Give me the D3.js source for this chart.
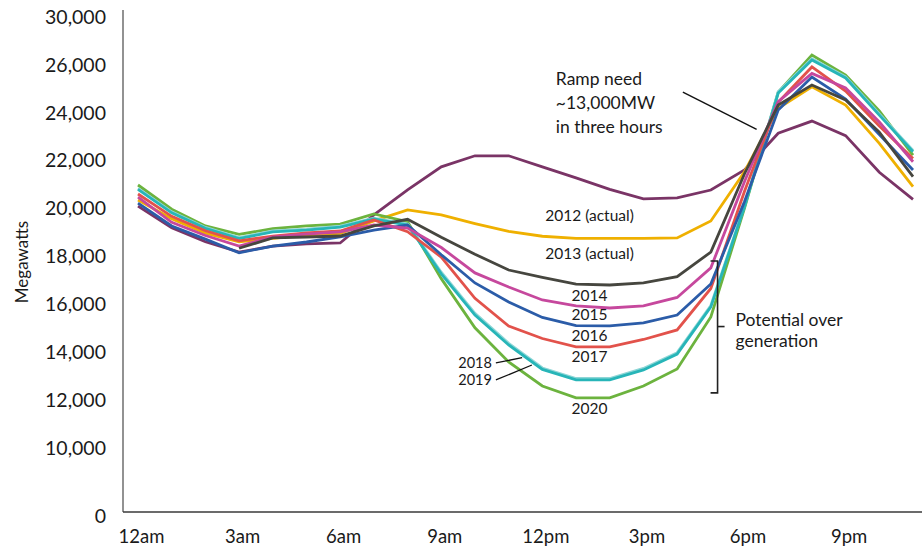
<!DOCTYPE html>
<html><head><meta charset="utf-8">
<script src="https://cdn.jsdelivr.net/npm/d3@7"></script>
<style>
html,body{margin:0;padding:0;background:#fff;}
text{font-family:"Lato","Noto Sans",sans-serif;fill:#1a1a1a;}
</style></head>
<body>
<svg id="chart" width="922" height="551"></svg>
<script>
// ---------- data ----------
const hours = d3.range(0, 24);
const xTickHours  = [0, 3, 6, 9, 12, 15, 18, 21];
const xTickLabels = ["12am", "3am", "6am", "9am", "12pm", "3pm", "6pm", "9pm"];
// the source chart uses a broken axis: "0" sits at the bottom and "30,000" at the 28,000 step
const yTickValues = [7150, 10000, 12000, 14000, 16000, 18000, 20000, 22000, 24000, 26000, 28000];
const yTickLabels = ["0", "10,000", "12,000", "14,000", "16,000", "18,000", "20,000", "22,000", "24,000", "26,000", "30,000"];

const s2012 = [20080, 19170, 18590, 18160, 18410, 18500, 18540, 19710, 20760, 21720, 22180, 22180, 21720, 21260, 20780, 20380, 20420, 20750, 21590, 23120, 23630, 23020, 21490, 20360];
const s2013 = [20330, 19550, 18950, 18590, 18730, 18870, 18940, 19460, 19920, 19710, 19350, 19020, 18820, 18735, 18735, 18735, 18750, 19460, 21515, 24160, 25060, 24300, 22700, 20890];
const s2014 = [null, null, null, 18320, 18750, 18790, 18830, 19250, 19530, 18780, 18070, 17410, 17100, 16820, 16785, 16870, 17130, 18160, 21430, 24300, 25135, 24510, 23170, 21310];
const s2015 = [20450, 19400, 18850, 18410, 18790, 18910, 19000, 19290, 19165, 18350, 17290, 16700, 16160, 15910, 15825, 15910, 16265, 17500, 21110, 24440, 25620, 25010, 23590, 21930];
const s2016 = [20200, 19250, 18700, 18130, 18410, 18580, 18790, 19080, 19290, 18050, 16870, 16075, 15430, 15090, 15075, 15200, 15530, 16830, 20275, 24090, 25470, 24550, 23070, 21590];
const s2017 = [20585, 19650, 19050, 18630, 18830, 18960, 19040, 19500, 19010, 17950, 16230, 15070, 14550, 14200, 14200, 14510, 14910, 16640, 20700, 24420, 25890, 24880, 23420, 22070];
const s2018 = [20820, 19840, 19190, 18760, 19040, 19120, 19240, 19580, 19330, 17320, 15600, 14350, 13320, 12880, 12880, 13300, 13960, 15930, 20100, 24850, 26230, 25480, 23930, 22400];
const s2019 = [20780, 19800, 19150, 18720, 19000, 19080, 19200, 19540, 19290, 17250, 15530, 14280, 13260, 12820, 12820, 13240, 13900, 15870, 20050, 24800, 26180, 25430, 23880, 22350];
const s2020 = [20960, 19950, 19250, 18900, 19140, 19250, 19330, 19750, 19430, 17050, 15000, 13570, 12570, 12070, 12070, 12570, 13280, 15450, 20000, 24840, 26390, 25550, 24050, 22210];

const seriesNames = ["2012 (actual)", "2013 (actual)", "2020", "2018", "2019", "2017", "2016", "2015", "2014"];
const seriesValues = [s2012, s2013, s2020, s2018, s2019, s2017, s2016, s2015, s2014];
const seriesColors = ["#7a3466", "#efb000", "#6cb33e", "#8ed6d6", "#27b5b8", "#e2524b", "#2b5ca8", "#c6489d", "#46463f"];

// ---------- layout ----------
const svg = d3.select("#chart");
const axisLeftX = 123, axisBottomY = 512, plotTop = 10, plotRight = 922;
const x = d3.scaleLinear().domain([0, 23]).range([138, 913]);
const y = d3.scaleLinear().domain([10000, 20000]).range([447.5, 208]);

// axes lines
svg.append("line").attr("x1", axisLeftX).attr("x2", axisLeftX).attr("y1", plotTop).attr("y2", axisBottomY)
  .attr("stroke", "#777").attr("stroke-width", 1.6);
svg.append("line").attr("x1", axisLeftX).attr("x2", plotRight).attr("y1", axisBottomY).attr("y2", axisBottomY)
  .attr("stroke", "#3a3a3a").attr("stroke-width", 1.6);

// y tick labels
const yAxis = d3.axisLeft(y).tickValues(yTickValues).tickSize(0).tickPadding(0)
  .tickFormat((d, i) => yTickLabels[i]);
const gy = svg.append("g").attr("transform", "translate(106,0)").call(yAxis);
gy.select(".domain").remove();
gy.selectAll("text").style("font-size", "19.5px").attr("fill", "#1a1a1a").attr("dy", "0.35em");

// x tick labels
const xAxis = d3.axisBottom(x).tickValues(xTickHours).tickSize(0).tickPadding(0)
  .tickFormat((d, i) => xTickLabels[i]);
const gx = svg.append("g").attr("transform", "translate(3,530)").call(xAxis);
gx.select(".domain").remove();
gx.selectAll("text").style("font-size", "18.5px").attr("fill", "#1a1a1a").attr("dy", "0.71em");

// y title
svg.append("text").attr("transform", "translate(28,262) rotate(-90)")
  .attr("text-anchor", "middle").style("font-size", "17px").text("Megawatts");

// lines
const line = d3.line().defined(d => d != null).x((d, i) => x(hours[i])).y(d => y(d));
svg.append("g").selectAll("path").data(seriesValues).join("path")
  .attr("d", line).attr("fill", "none")
  .attr("stroke", (d, i) => seriesColors[i])
  .attr("stroke-width", 2.8).attr("stroke-linejoin", "miter").attr("stroke-linecap", "butt");

// year labels (positions in data coordinates)
const yearLabels = [
  {t: "2012 (actual)", h: 13.4, v: 19700},
  {t: "2013 (actual)", h: 13.4, v: 18100},
  {t: "2014", h: 13.4, v: 16350},
  {t: "2015", h: 13.4, v: 15550},
  {t: "2016", h: 13.4, v: 14680},
  {t: "2017", h: 13.4, v: 13800},
  {t: "2020", h: 13.4, v: 11640}
];
svg.append("g").selectAll("text").data(yearLabels).join("text")
  .attr("x", d => x(d.h)).attr("y", d => y(d.v)).attr("dy", "0.35em")
  .attr("text-anchor", "middle").style("font-size", "15.5px").text(d => d.t);

// 2018/2019 with leaders
const leaders = [
  {t: "2018", lh: 10.68, lv: 13530, ph: 11.4, pv: 13750},
  {t: "2019", lh: 10.68, lv: 12820, ph: 11.69, pv: 13445}
];
const lg = svg.append("g");
leaders.forEach(d => {
  lg.append("text").attr("x", x(d.lh) - 6).attr("y", y(d.lv)).attr("dy", "0.35em")
    .attr("text-anchor", "end").style("font-size", "14.5px").text(d.t);
  lg.append("line").attr("x1", x(d.lh) - 2).attr("y1", y(d.lv)).attr("x2", x(d.ph)).attr("y2", y(d.pv))
    .attr("stroke", "#111").attr("stroke-width", 1.3);
});

// Ramp need annotation
const ramp = svg.append("g");
["Ramp need", "~13,000MW", "in three hours"].forEach((s, i) => {
  ramp.append("text").attr("x", x(12.4)).attr("y", 79 + i * 24).attr("dy", "0.35em")
    .style("font-size", "17.5px").text(s);
});
ramp.append("line").attr("x1", x(16.17)).attr("y1", y(24843)).attr("x2", x(18.36)).attr("y2", y(23286))
  .attr("stroke", "#111").attr("stroke-width", 1.4);

// Potential over generation bracket
const bx = x(17.2), bTop = y(17790), bBot = y(12280), bMid = y(15050);
const br = svg.append("g").attr("stroke", "#222").attr("stroke-width", 1.6).attr("fill", "none");
br.append("path").attr("d", `M${bx - 7},${bTop}H${bx}V${bBot}H${bx - 7}`);
br.append("line").attr("x1", bx).attr("x2", bx + 7).attr("y1", bMid).attr("y2", bMid);
["Potential over", "generation"].forEach((s, i) => {
  svg.append("text").attr("x", bx + 18).attr("y", 320 + i * 21).attr("dy", "0.35em")
    .style("font-size", "17.5px").text(s);
});
</script>
</body></html>
